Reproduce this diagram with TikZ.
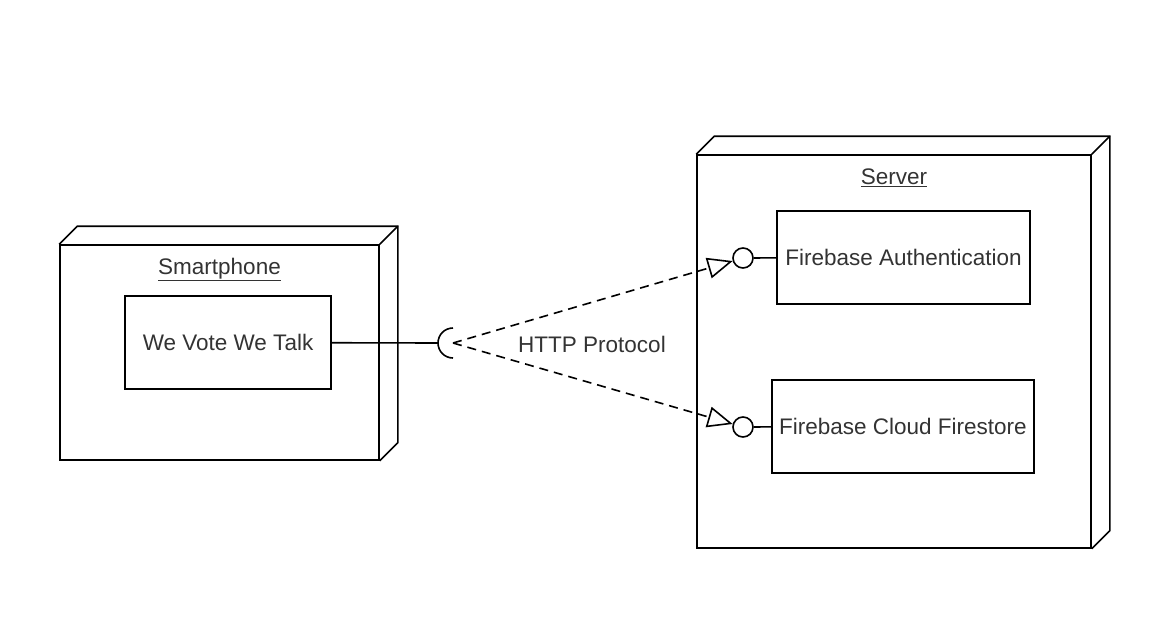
\documentclass[tikz,border=0pt]{standalone}
\usepackage{fontspec}
\setmainfont{Liberation Sans}
\usetikzlibrary{positioning,arrows.meta}

\begin{document}
\begin{tikzpicture}
[
    x=1pt, y=-1pt,
    line width=1.6pt,
    font=\fontsize{22.5}{27}\selectfont,
    text=black!80,
    devicebox/.style = {rectangle,
                        draw,
                        inner sep=0pt},
    compbox/.style   = {rectangle,
                        draw,
                        minimum height=93pt,
                        inner sep=2pt},
    lolli/.style     = {circle,
                        draw,
                        minimum size=20pt,
                        inner sep=0pt},
    lbl/.style       = {inner sep=2pt},
    arr/.style       = {dash pattern=on 9pt off 6pt,
                        -{Triangle[open,length=25pt,width=21pt]}}
]

\useasboundingbox (0,0) rectangle (1176,632);

% devices
\node (phone) [devicebox, minimum width=319pt, minimum height=215pt] at (219.5,352.5) {};
\node (server) [devicebox, minimum width=394pt, minimum height=393pt] at (894,351.5) {};

\draw (phone.north west) -- ++(18,-18) -- ([shift={(18,-18)}]phone.north east)
      -- ([shift={(18,-18)}]phone.south east) -- (phone.south east);
\draw (phone.north east) -- ++(18,-18);

\draw (server.north west) -- ++(18,-18) -- ([shift={(18,-18)}]server.north east)
      -- ([shift={(18,-18)}]server.south east) -- (server.south east);
\draw (server.north east) -- ++(18,-18);

\node (phonelbl) [lbl, below=11pt of phone.north] {\underline{Smartphone}};
\node (serverlbl) [lbl, below=12pt of server.north] {\underline{Server}};

% components
\node (app) [compbox, minimum width=206pt] at (228,342.5) {We Vote We Talk};
\node (auth) [compbox, minimum width=253pt] at (903.5,257.5) {Firebase Authentication};
\node (store) [compbox, minimum width=262pt] at (903,426.5) {Firebase Cloud Firestore};

% provided interfaces
\node (authport) [lolli] at (743,258) {};
\node (storeport) [lolli] at (743,427) {};

\draw (authport) -- (auth);
\draw (storeport) -- (store);

% required interface
\coordinate (sock) at (453,343);
\coordinate (sockleft) at (438,343);

\draw (app) -- (sockleft);
\draw (sock) ++(0,-15) arc (-90:-270:15);

\draw[arr] (sock) -- (authport);
\draw[arr] (sock) -- (storeport);

\node (http) [lbl] at (592,344) {HTTP Protocol};

\end{tikzpicture}
\end{document}
